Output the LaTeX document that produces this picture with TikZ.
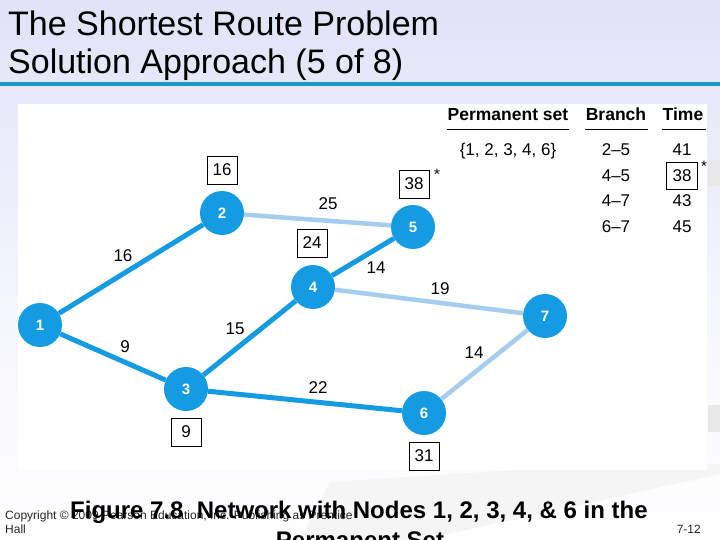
\documentclass[tikz,border=0pt]{standalone}
\usepackage{fontspec}
\setmainfont{Liberation Sans}
\definecolor{nodeblue}{RGB}{20,155,226}
\definecolor{lightedge}{RGB}{165,205,240}
\definecolor{slideteal}{RGB}{28,152,192}
\definecolor{lav}{RGB}{226,226,248}
\newcommand{\fsz}[1]{\fontsize{#1}{#1}\selectfont}
\tikzset{
  vtx/.style={circle, fill=nodeblue, minimum size=44pt, inner sep=0pt, text=white, font=\bfseries\fsz{15}},
  tbox/.style={draw, line width=0.8pt, minimum width=30pt, minimum height=28pt, inner sep=0pt, font=\fsz{17}},
  elab/.style={inner sep=0pt, font=\fsz{17}},
  star/.style={inner sep=0pt, font=\fsz{15}},
  thead/.style={anchor=base, inner sep=0pt, font=\bfseries\fsz{17.5}},
  tcell/.style={anchor=base, inner sep=0pt, font=\fsz{17}},
  pathdone/.style={line width=5pt, draw=nodeblue},
  pathopen/.style={line width=4.5pt, draw=lightedge},
  rule/.style={line width=0.9pt, draw=black}
}
\begin{document}
\begin{tikzpicture}[x=1pt,y=-1pt]
\useasboundingbox (0,0) rectangle (720,540);
% background
\shade[top color=lav, bottom color=white, middle color=lav!40] (0,0) rectangle (720,540);
\fill[gray!8] (330,482) -- (610,464) -- (720,464) -- (720,474) -- (420,540) -- (300,540) -- cycle;
\fill[gray!18] (708,160) rectangle (720,186);
\fill[gray!18] (708,405) rectangle (720,432);
\fill[white] (18,104) rectangle (707,470);
\draw[slideteal, line width=4pt] (0,84) -- (720,84);
% title
\node[anchor=base west, inner sep=0pt, font=\fsz{34}, text=black] (t1) at (8,36) {The Shortest Route Problem};
\node[anchor=base west, inner sep=0pt, font=\fsz{34}, text=black] (t2) at (8,74) {Solution Approach (5 of 8)};
% nodes
\node[vtx] (n1) at (40,325) {1};
\node[vtx] (n2) at (222,213) {2};
\node[vtx] (n3) at (186,389) {3};
\node[vtx] (n4) at (313,287) {4};
\node[vtx] (n5) at (413,227) {5};
\node[vtx] (n6) at (424,413) {6};
\node[vtx] (n7) at (545,316) {7};
% edges
\draw[pathdone] (n1) -- (n2);
\draw[pathdone] (n1) -- (n3);
\draw[pathdone] (n3) -- (n4);
\draw[pathdone] (n3) -- (n6);
\draw[pathdone] (n4) -- (n5);
\draw[pathopen] (n2) -- (n5);
\draw[pathopen] (n4) -- (n7);
\draw[pathopen] (n6) -- (n7);
% edge labels
\node[elab] (l12) at (123,256) {16};
\node[elab] (l25) at (328,204) {25};
\node[elab] (l45) at (376,268) {14};
\node[elab] (l47) at (440,289) {19};
\node[elab] (l34) at (235,329) {15};
\node[elab] (l13) at (125,347) {9};
\node[elab] (l36) at (318,388) {22};
\node[elab] (l67) at (474,353) {14};
% time boxes
\node[tbox] (b2) at (222,170) {16};
\node[tbox] (b5) at (414,184) {38};
\node[star] (s5) at (437,174) {*};
\node[tbox] (b4) at (312,243) {24};
\node[tbox] (b3) at (186,432) {9};
\node[tbox] (b6) at (424,456) {31};
% table
\node[thead] (h1) at (508,121) {Permanent set};
\node[thead] (h2) at (616,121) {Branch};
\node[thead] (h3) at (683,121) {Time};
\draw[rule] (447,129) -- (569,129);
\draw[rule] (585,129) -- (648,129);
\draw[rule] (662,129) -- (706,129);
\node[tcell] (p1) at (508,156) {\{1, 2, 3, 4, 6\}};
\node[tcell] (r1) at (616,156) {2--5};
\node[tcell] (r2) at (616,182) {4--5};
\node[tcell] (r3) at (616,207) {4--7};
\node[tcell] (r4) at (616,233) {6--7};
\node[tcell] (v1) at (682,156) {41};
\node[tcell] (v2) at (682,182) {38};
\node[tcell] (v3) at (682,207) {43};
\node[tcell] (v4) at (682,233) {45};
\node[draw, line width=0.8pt, minimum width=31pt, minimum height=27pt, inner sep=0pt] (vb) at (682,176) {};
\node[star] (s2) at (704,166) {*};
% footer
\node[anchor=base west, inner sep=0pt, font=\fsz{12}, text=black!85] (c1) at (5,519) {Copyright \textcopyright\ 2009 Pearson Education, Inc. Publishing as Prentice};
\node[anchor=base west, inner sep=0pt, font=\fsz{12}, text=black!85] (c2) at (5,533) {Hall};
\node[anchor=base east, inner sep=0pt, font=\fsz{12}, text=black!85] (pg) at (701,533) {7-12};
\node[anchor=base west, inner sep=0pt, font=\bfseries\fsz{24}] (f1) at (70,518) {Figure 7.8\ \ Network with Nodes 1, 2, 3, 4, \& 6 in the};
\node[anchor=base, inner sep=0pt, font=\bfseries\fsz{24}] (f2) at (360,548) {Permanent Set};
\end{tikzpicture}
\end{document}
